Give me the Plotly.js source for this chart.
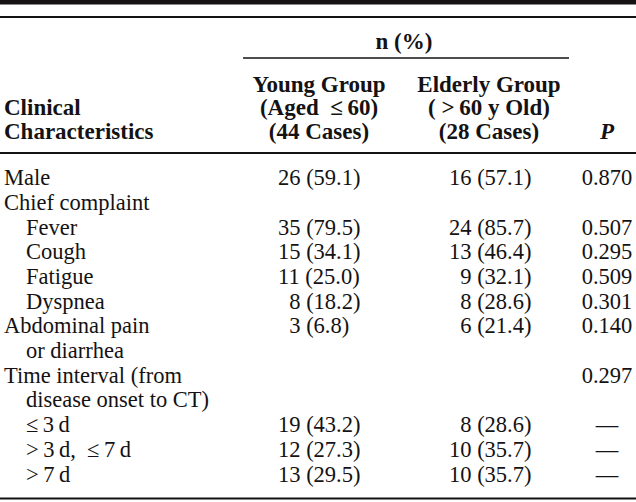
<!DOCTYPE html>
<html>
<head>
<meta charset="utf-8">
<script src="https://cdn.plot.ly/plotly-3.0.1.min.js"></script>
<style>html,body{margin:0;padding:0;background:#fff;}#chart{width:636px;height:502px;}</style>
</head>
<body>
<div id="chart"></div>
<script>
// ---- data ----
var rowLabels = ["Male", "Chief complaint", "Fever", "Cough", "Fatigue", "Dyspnea",
  "Abdominal pain", "or diarrhea", "Time interval (from", "disease onset to CT)",
  "\u2264\u20093\u2009d", ">\u20093\u2009d,  \u2264\u20097\u2009d", ">\u20097\u2009d"];
var rowLevel = [0, 0, 1, 1, 1, 1, 0, 1, 0, 1, 1, 1, 1];
var youngN   = [26, null, 35, 15, 11, 8, 3, null, null, null, 19, 12, 13];
var youngPct = [59.1, null, 79.5, 34.1, 25.0, 18.2, 6.8, null, null, null, 43.2, 27.3, 29.5];
var elderN   = [16, null, 24, 13, 9, 8, 6, null, null, null, 8, 10, 10];
var elderPct = [57.1, null, 85.7, 46.4, 32.1, 28.6, 21.4, null, null, null, 28.6, 35.7, 35.7];
var pValues  = ["0.870", "", "0.507", "0.295", "0.509", "0.301", "0.140", "", "0.297", "", "\u2014", "\u2014", "\u2014"];

var spanHeader = "n (%)";
var firstHeader = ["Clinical", "Characteristics"];
var youngHeader = ["Young Group", "(Aged  \u2264\u200960)", "(44 Cases)"];
var elderHeader = ["Elderly Group", "( >\u200960 y Old)", "(28 Cases)"];
var pHeader = "P";

// ---- layout helpers ----
var W = 636, H = 502;
var FONT = "Liberation Serif, Times New Roman, serif";
var INK = "#141213";
var FS = 22.5, FSH = 23;
var rowTop = 179.5, rowStep = 24.7;
var hdrTop = 86.5, hdrStep = 23.2;
var xLabel = [4, 26];
var xYoung = 278, xElder = 449, xP = 607;
var xYoungMid = 319, xElderMid = 489, xFirst = 4;

var rowsY = rowLabels.map(function (_, i) { return rowTop + i * rowStep; });

function fmt(n, p) {
  if (n === null) return "";
  var s = String(n);
  while (s.length < 2) s = "\u2002" + s;
  return s + " (" + p.toFixed(1) + ")";
}

function textTrace(xs, ys, texts, pos, opts) {
  opts = opts || {};
  return {
    type: "scatter", mode: "text", x: xs, y: ys, text: texts,
    textposition: pos, hoverinfo: "skip", cliponaxis: false,
    marker: {size: 0, opacity: 0},
    textfont: {family: FONT, size: opts.size || FS, color: INK, weight: opts.weight || "normal", style: opts.style || "normal"}
  };
}

var traces = [];
// body columns
traces.push(textTrace(rowLabels.map(function (_, i) { return xLabel[rowLevel[i]]; }), rowsY, rowLabels, "middle right"));
traces.push(textTrace(rowsY.map(function () { return xYoung; }), rowsY, youngN.map(function (n, i) { return fmt(n, youngPct[i]); }), "middle right"));
traces.push(textTrace(rowsY.map(function () { return xElder; }), rowsY, elderN.map(function (n, i) { return fmt(n, elderPct[i]); }), "middle right"));
traces.push(textTrace(rowsY.map(function () { return xP; }), rowsY, pValues, "middle center"));

// header
var hb = {weight: "bold", size: FSH};
var hdrY = youngHeader.map(function (_, i) { return hdrTop + i * hdrStep; });
traces.push(textTrace(youngHeader.map(function () { return xYoungMid; }), hdrY, youngHeader, "middle center", hb));
traces.push(textTrace(elderHeader.map(function () { return xElderMid; }), hdrY, elderHeader, "middle center", hb));
traces.push(textTrace(firstHeader.map(function () { return xFirst; }), hdrY.slice(1), firstHeader, "middle right", hb));
traces.push(textTrace([xP], [hdrY[2]], [pHeader], "middle center", {weight: "bold", style: "italic", size: FSH}));
traces.push(textTrace([(xYoungMid + xElderMid) / 2], [43.5], [spanHeader], "middle center", hb));

var shapes = [
  {type: "rect", xref: "x", yref: "y", x0: 0, x1: W, y0: 0, y1: 4.5, fillcolor: INK, line: {width: 0}},
  {type: "line", xref: "x", yref: "y", x0: 0, x1: W, y0: 17, y1: 17, line: {color: INK, width: 2}},
  {type: "line", xref: "x", yref: "y", x0: 243, x1: 569, y0: 58, y1: 58, line: {color: INK, width: 1.5}},
  {type: "line", xref: "x", yref: "y", x0: 0, x1: W, y0: 153, y1: 153, line: {color: INK, width: 2}},
  {type: "line", xref: "x", yref: "y", x0: 0, x1: W, y0: 498.5, y1: 498.5, line: {color: INK, width: 2}}
];

var layout = {
  width: W, height: H,
  margin: {l: 0, r: 0, t: 0, b: 0, pad: 0},
  paper_bgcolor: "#fff", plot_bgcolor: "#fff",
  showlegend: false,
  xaxis: {range: [0, W], visible: false, fixedrange: true},
  yaxis: {range: [H, 0], visible: false, fixedrange: true},
  shapes: shapes
};

Plotly.newPlot("chart", traces, layout, {displayModeBar: false, staticPlot: true});
</script>
</body>
</html>
